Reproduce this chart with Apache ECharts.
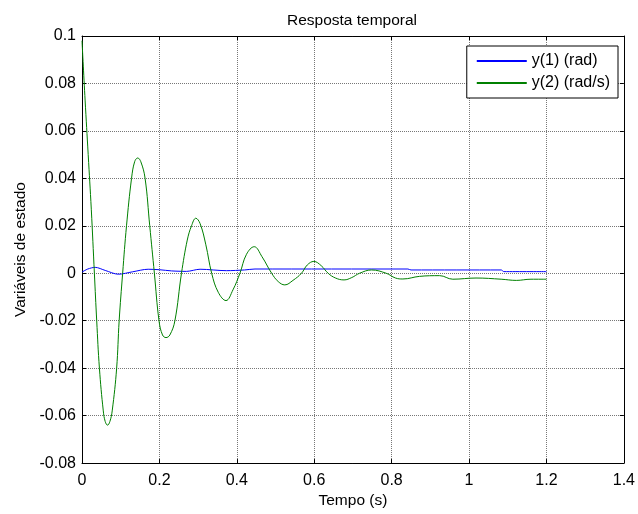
<!DOCTYPE html>
<html>
<head>
<meta charset="utf-8">
<script src="https://cdn.jsdelivr.net/npm/echarts@6/dist/echarts.min.js"></script>
<style>
html,body{margin:0;padding:0;background:#fff;}
#chart{width:638px;height:514px;}
</style>
</head>
<body>
<div id="chart"></div>
<script>
// ---- Data ----
const titleText = 'Resposta temporal';
const xName = 'Tempo (s)';
const yName = 'Variáveis de estado';
const seriesNames = ['y(1) (rad)', 'y(2) (rad/s)'];

const xTicks = [0, 0.2, 0.4, 0.6, 0.8, 1, 1.2, 1.4];
const xTickLabels = ['0', '0.2', '0.4', '0.6', '0.8', '1', '1.2', '1.4'];
const yTicks = [-0.08, -0.06, -0.04, -0.02, 0, 0.02, 0.04, 0.06, 0.08, 0.1];
const yTickLabels = ['-0.08', '-0.06', '-0.04', '-0.02', '0', '0.02', '0.04', '0.06', '0.08', '0.1'];

// y(1) (rad)
const y1Time = [0, 0.015, 0.034, 0.06, 0.094, 0.13, 0.171, 0.2, 0.231, 0.27, 0.305, 0.373, 0.42, 0.447, 0.842, 0.85, 1.083, 1.09, 1.2];
const y1Vals = [0.0005, 0.0018, 0.0025, 0.0012, -0.0004, 0.0006, 0.0017, 0.0015, 0.001, 0.0008, 0.0017, 0.0011, 0.0014, 0.0018, 0.0018, 0.0014, 0.0014, 0.0007, 0.0007];

// y(2) (rad/s)
const y2Time = [0, 0.008, 0.016, 0.024, 0.032, 0.038, 0.045, 0.055, 0.060, 0.066, 0.072, 0.078, 0.0895, 0.096, 0.105, 0.115, 0.128, 0.136, 0.144, 0.152, 0.163, 0.175, 0.187, 0.199, 0.208, 0.217, 0.227, 0.240, 0.257, 0.272, 0.283, 0.294, 0.305, 0.320, 0.335, 0.352, 0.372, 0.390, 0.408, 0.425, 0.445, 0.465, 0.490, 0.507, 0.524, 0.545, 0.567, 0.582, 0.599, 0.618, 0.636, 0.655, 0.677, 0.697, 0.717, 0.748, 0.786, 0.810, 0.829, 0.872, 0.924, 0.958, 1.018, 1.083, 1.122, 1.16, 1.2];
const y2Vals = [0.098, 0.073, 0.050, 0.027, 0.0, -0.020, -0.040, -0.058, -0.0625, -0.064, -0.0625, -0.058, -0.040, -0.020, 0.0, 0.020, 0.040, 0.047, 0.0486, 0.047, 0.040, 0.020, 0.0, -0.020, -0.026, -0.0271, -0.026, -0.020, 0.0, 0.014, 0.020, 0.0232, 0.021, 0.012, 0.0, -0.008, -0.0115, -0.007, 0.0, 0.008, 0.0112, 0.007, 0.0, -0.0035, -0.0049, -0.003, 0.0, 0.0035, 0.005, 0.0032, 0.0, -0.002, -0.0028, -0.0018, 0.0, 0.0014, 0.0, -0.002, -0.0024, -0.0013, -0.001, -0.0025, -0.002, -0.0025, -0.003, -0.0025, -0.0025];

// ---- Chart ----
const FONT = '"Liberation Sans", Arial, sans-serif';
const zip = (a, b) => a.map((v, i) => [v, b[i]]);
const lbl = (ticks, labels) => v => {
  for (let i = 0; i < ticks.length; i++) if (Math.abs(ticks[i] - v) < 1e-9) return labels[i];
  return '';
};

const chart = echarts.init(document.getElementById('chart'), null, {renderer: 'canvas'});
const axisCommon = {
  axisLine: {show: true, onZero: false, lineStyle: {color: '#000', width: 1}},
  axisTick: {show: true, inside: true, length: 4, lineStyle: {color: '#000'}},
};
chart.setOption({
  animation: false,
  backgroundColor: '#fff',
  title: {
    text: titleText, left: 352, top: 13, textAlign: 'center', padding: 0,
    textStyle: {fontFamily: FONT, fontSize: 15.5, fontWeight: 'normal', color: '#000'}
  },
  legend: {
    data: seriesNames, orient: 'vertical', right: 20, top: 46,
    icon: 'rect', itemWidth: 50, itemHeight: 2, itemGap: 4,
    padding: [6, 8, 6, 10],
    borderColor: '#000', borderWidth: 1, backgroundColor: '#fff',
    textStyle: {fontFamily: FONT, fontSize: 16, color: '#000', lineHeight: 18}
  },
  grid: {left: 82, right: 14, top: 36, bottom: 48, containLabel: false},
  xAxis: [
    Object.assign({}, axisCommon, {
      type: 'value', min: 0, max: 1.4, interval: 0.2, position: 'bottom',
      name: xName, nameLocation: 'middle', nameGap: 27,
      nameTextStyle: {fontFamily: FONT, fontSize: 15.5, color: '#000'},
      axisLabel: {fontFamily: FONT, fontSize: 16, color: '#000', margin: 9, formatter: lbl(xTicks, xTickLabels)},
      splitLine: {show: true, lineStyle: {color: '#777', type: 'dotted', width: 1}}
    }),
    Object.assign({}, axisCommon, {
      type: 'value', min: 0, max: 1.4, interval: 0.2, position: 'top',
      axisLabel: {show: false}, splitLine: {show: false}
    })
  ],
  yAxis: [
    Object.assign({}, axisCommon, {
      type: 'value', min: -0.08, max: 0.1, interval: 0.02, position: 'left',
      name: yName, nameLocation: 'middle', nameGap: 53,
      nameTextStyle: {fontFamily: FONT, fontSize: 15.5, color: '#000'},
      axisLabel: {fontFamily: FONT, fontSize: 16, color: '#000', margin: 6, formatter: lbl(yTicks, yTickLabels)},
      splitLine: {show: true, lineStyle: {color: '#777', type: 'dotted', width: 1}}
    }),
    Object.assign({}, axisCommon, {
      type: 'value', min: -0.08, max: 0.1, interval: 0.02, position: 'right',
      axisLabel: {show: false}, splitLine: {show: false}
    })
  ],
  series: [
    {
      name: seriesNames[0], type: 'line', xAxisIndex: 0, yAxisIndex: 0,
      data: zip(y1Time, y1Vals), showSymbol: false, smooth: 0.3,
      lineStyle: {color: '#0000ff', width: 1}, itemStyle: {color: '#0000ff'}
    },
    {
      name: seriesNames[1], type: 'line', xAxisIndex: 0, yAxisIndex: 0,
      data: zip(y2Time, y2Vals), showSymbol: false, smooth: 0.4,
      lineStyle: {color: '#008000', width: 1}, itemStyle: {color: '#008000'}
    }
  ]
});
</script>
</body>
</html>
